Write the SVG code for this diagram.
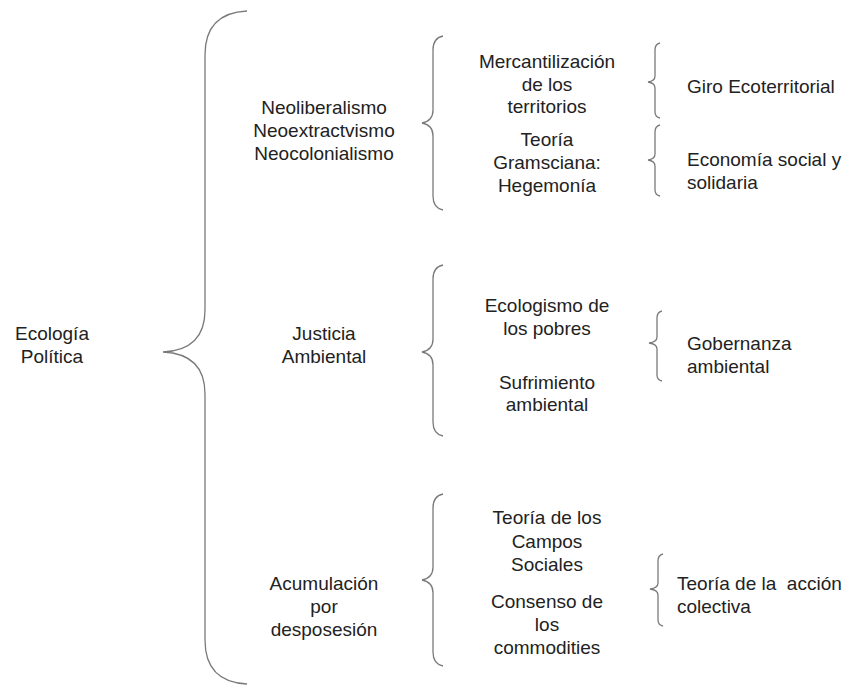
<svg xmlns="http://www.w3.org/2000/svg" width="848" height="687" viewBox="0 0 848 687">
<style>
text{font-family:"Liberation Sans",Arial,sans-serif;font-size:19px;fill:#222}
.c{text-anchor:middle}
.b{fill:none;stroke:#7a7a7a;stroke-width:1.3}
</style>
<rect width="848" height="687" fill="#fff"/>
<g id="connectors">
<path class="b" d="M247,11 Q205,13 205,55 V310 Q205,350 163,352 Q205,354 205,394 V640 Q205,682 247,684"/>
<path class="b" d="M443,36 Q433,38 433,50 V110 Q433,121 422,123 Q433,125 433,136 V196 Q433,208 443,210"/>
<path class="b" d="M443,265 Q433,267 433,279 V339 Q433,350 422,352 Q433,354 433,365 V422 Q433,434 443,436"/>
<path class="b" d="M443,494 Q433,496 433,508 V567 Q433,578 422,580 Q433,582 433,593 V652 Q433,664 443,666"/>
<path class="b" d="M660,43 Q655,44 655,50 V76 Q655,81 648,82 Q655,83 655,88 V112 Q655,117 660,118"/>
<path class="b" d="M660,125 Q655,126 655,132 V154 Q655,159 648,160 Q655,161 655,166 V190 Q655,195 660,196"/>
<path class="b" d="M662,311 Q657,312 657,318 V337 Q657,342 649,343 Q657,344 657,349 V375 Q657,380 662,381"/>
<path class="b" d="M663,554 Q658,555 658,561 V583 Q658,588 650,589 Q658,590 658,595 V620 Q658,625 663,626"/>
</g>
<g id="ecologia-politica"><text class="c" x="52" y="340">Ecología</text><text class="c" x="52" y="363">Política</text></g>
<g id="neoliberalismo"><text class="c" x="324" y="114">Neoliberalismo</text><text class="c" x="324" y="137">Neoextractvismo</text><text class="c" x="324" y="160">Neocolonialismo</text></g>
<g id="justicia"><text class="c" x="324" y="340">Justicia</text><text class="c" x="324" y="363">Ambiental</text></g>
<g id="acumulacion"><text class="c" x="324" y="590">Acumulación</text><text class="c" x="324" y="613">por</text><text class="c" x="324" y="636">desposesión</text></g>
<g id="mercantilizacion"><text class="c" x="547" y="68">Mercantilización</text><text class="c" x="547" y="91">de los</text><text class="c" x="547" y="113">territorios</text></g>
<g id="gramsciana"><text class="c" x="547" y="146">Teoría</text><text class="c" x="547" y="169">Gramsciana:</text><text class="c" x="547" y="192">Hegemonía</text></g>
<g id="ecologismo"><text class="c" x="547" y="312">Ecologismo de</text><text class="c" x="547" y="335">los pobres</text></g>
<g id="sufrimiento"><text class="c" x="547" y="389">Sufrimiento</text><text class="c" x="547" y="411">ambiental</text></g>
<g id="campos"><text class="c" x="547" y="524">Teoría de los</text><text class="c" x="547" y="548">Campos</text><text class="c" x="547" y="571">Sociales</text></g>
<g id="consenso"><text class="c" x="547" y="608">Consenso de</text><text class="c" x="547" y="631">los</text><text class="c" x="547" y="654">commodities</text></g>
<g id="giro"><text x="687" y="93">Giro Ecoterritorial</text></g>
<g id="economia"><text x="687" y="166">Economía social y</text><text x="687" y="189">solidaria</text></g>
<g id="gobernanza"><text x="687" y="350">Gobernanza</text><text x="687" y="373">ambiental</text></g>
<g id="accion"><text x="677" y="590" xml:space="preserve" style="white-space:pre">Teoría de la  acción</text><text x="677" y="613">colectiva</text></g>
</svg>
